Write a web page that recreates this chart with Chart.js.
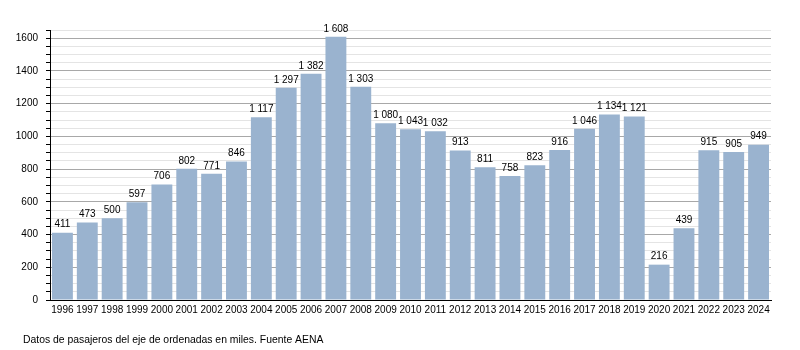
<!DOCTYPE html>
<html lang="es">
<head>
<meta charset="UTF-8">
<title>Pasajeros AENA</title>
<script src="https://cdn.jsdelivr.net/npm/chart.js"></script>
<style>
    body { margin: 0; padding: 0; background: #fff; }
    #wrap { position: relative; width: 800px; height: 350px; }
</style>
</head>
<body>
<div id="wrap"><canvas id="chart" width="800" height="350"></canvas></div>
<script>
    const years = ['1996', '1997', '1998', '1999', '2000', '2001', '2002', '2003', '2004', '2005',
        '2006', '2007', '2008', '2009', '2010', '2011', '2012', '2013', '2014', '2015',
        '2016', '2017', '2018', '2019', '2020', '2021', '2022', '2023', '2024'];
    const passengers = [411, 473, 500, 597, 706, 802, 771, 846, 1117, 1297,
        1382, 1608, 1303, 1080, 1043, 1032, 913, 811, 758, 823,
        916, 1046, 1134, 1121, 216, 439, 915, 905, 949];
    const footnote = 'Datos de pasajeros del eje de ordenadas en miles. Fuente AENA';

    const FONT = 'Liberation Sans, Arial, sans-serif';

    // "1608" -> "1 608"
    function fmt(v) {
        return String(v).replace(/\B(?=(\d{3})+(?!\d))/g, ' ');
    }

    const barLabels = {
        id: 'barLabels',
        afterDatasetsDraw(chart) {
            const ctx = chart.ctx;
            const meta = chart.getDatasetMeta(0);
            ctx.save();
            ctx.font = '10px ' + FONT;
            ctx.fillStyle = '#000';
            ctx.textAlign = 'center';
            ctx.textBaseline = 'bottom';
            meta.data.forEach((bar, i) => {
                ctx.fillText(fmt(passengers[i]), bar.x, bar.y - 3);
            });
            ctx.restore();
        },
        afterDraw(chart) {
            const ctx = chart.ctx;
            ctx.save();
            ctx.font = '10.4px ' + FONT;
            ctx.fillStyle = '#000';
            ctx.textAlign = 'left';
            ctx.textBaseline = 'middle';
            ctx.fillText(footnote, 23, 340);
            ctx.restore();
        }
    };

    new Chart(document.getElementById('chart'), {
        type: 'bar',
        data: {
            labels: years,
            datasets: [{
                data: passengers,
                backgroundColor: '#9ab3cf',
                borderWidth: 0,
                barPercentage: 0.84,
                categoryPercentage: 1.0
            }]
        },
        options: {
            responsive: false,
            animation: false,
            layout: { padding: { left: 0, right: 29, top: 30, bottom: 0 } },
            plugins: {
                legend: { display: false },
                tooltip: { enabled: false }
            },
            scales: {
                x: {
                    grid: { display: false, drawTicks: false },
                    border: { display: true, color: '#000', width: 1 },
                    ticks: {
                        color: '#000',
                        font: { family: FONT, size: 10 },
                        padding: 4,
                        maxRotation: 0,
                        autoSkip: false
                    },
                    afterFit(scale) { scale.height = 50; }
                },
                y: {
                    min: 0,
                    max: 1650,
                    grid: {
                        color: c => (c.tick && c.tick.value % 200 === 0 ? '#a8a8a8' : '#e4e4e4'),
                        tickColor: '#000',
                        tickLength: 4,
                        lineWidth: 1
                    },
                    border: { display: true, color: '#000', width: 1 },
                    ticks: {
                        stepSize: 50,
                        autoSkip: false,
                        color: '#000',
                        font: { family: FONT, size: 10 },
                        padding: 8,
                        callback: v => (v % 200 === 0 ? String(v) : '')
                    },
                    afterFit(scale) { scale.width = 50; }
                }
            }
        },
        plugins: [barLabels]
    });
</script>
</body>
</html>
